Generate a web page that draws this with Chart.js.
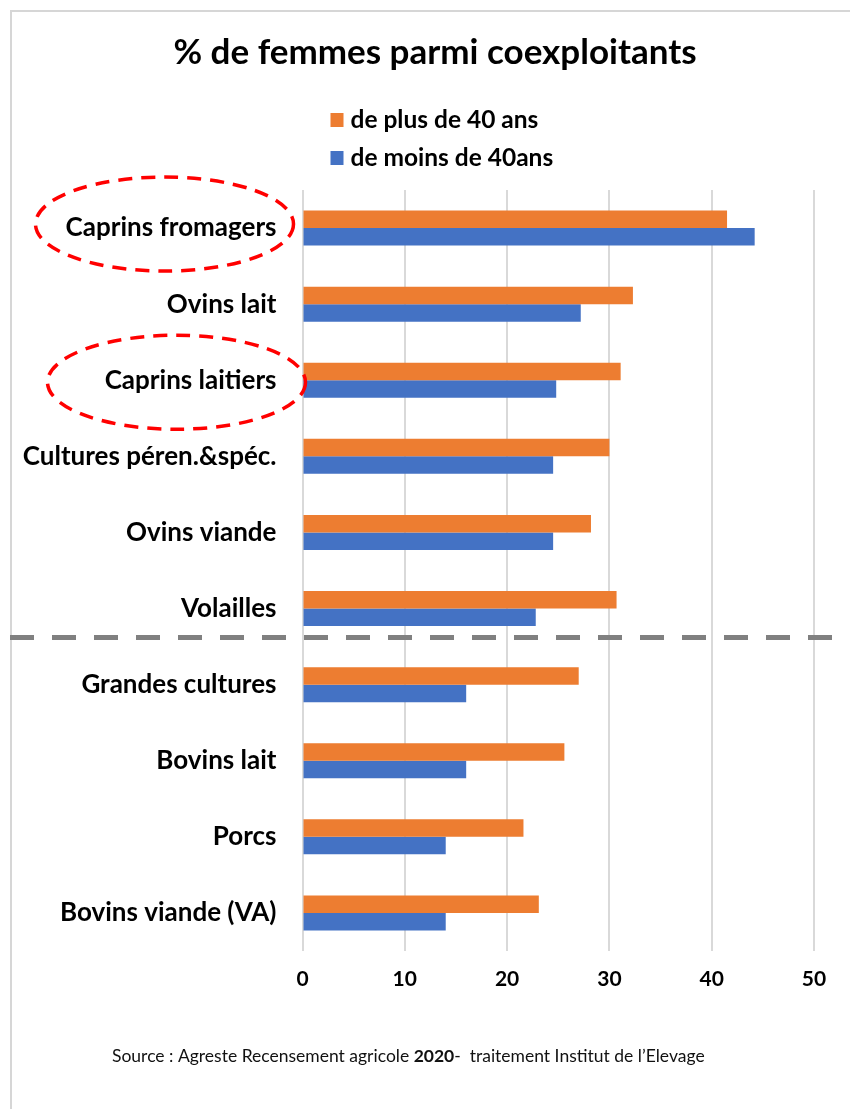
<!DOCTYPE html>
<html>
<head>
<meta charset="utf-8">
<script src="https://cdn.jsdelivr.net/npm/chart.js@4.4.1/dist/chart.umd.min.js"></script>
<style>
  body { margin: 0; background: #fff; }
  #wrap { position: relative; width: 850px; height: 1109px; }
</style>
</head>
<body>
<div id="wrap"><canvas id="chart"></canvas></div>
<script>
"use strict";
const categories = [
    'Caprins fromagers', 'Ovins lait', 'Caprins laitiers', 'Cultures péren.&spéc.',
    'Ovins viande', 'Volailles', 'Grandes cultures', 'Bovins lait', 'Porcs', 'Bovins viande (VA)'
];
const plus40 = [41.5, 32.3, 31.1, 30.0, 28.2, 30.7, 27.0, 25.6, 21.6, 23.1];
const moins40 = [44.2, 27.2, 24.8, 24.5, 24.5, 22.8, 16.0, 16.0, 14.0, 14.0];
const xTicks = [0, 10, 20, 30, 40, 50];
const seriesNames = ['de plus de 40 ans', 'de moins de 40ans'];
const circled = ['Caprins fromagers', 'Caprins laitiers'];
const splitAfter = 'Volailles';
const chartTitle = '% de femmes parmi coexploitants';

const FONT = 'Lato, "Open Sans", sans-serif';
const ORANGE = '#ED7D31';
const BLUE = '#4472C4';

// light frame around the figure + title
const framePlugin = {
    id: 'frame',
    beforeDraw(chart) {
        const ctx = chart.ctx;
        ctx.save();
        ctx.fillStyle = '#fff';
        ctx.fillRect(0, 0, chart.width, chart.height);
        ctx.strokeStyle = '#d6d6d6';
        ctx.lineWidth = 2;
        ctx.beginPath();
        ctx.moveTo(11, chart.height);
        ctx.lineTo(11, 11);
        ctx.lineTo(chart.width, 11);
        ctx.stroke();
        ctx.fillStyle = '#000';
        ctx.font = 'bold 35px ' + FONT;
        ctx.textAlign = 'center';
        ctx.textBaseline = 'middle';
        ctx.fillText(chartTitle, 435, 53);
        ctx.restore();
    }
};

// vertical legend under the title
const legendPlugin = {
    id: 'vlegend',
    afterDraw(chart) {
        const ctx = chart.ctx;
        const x = chart.chartArea.left + 28;
        ctx.save();
        ctx.font = 'bold 24.5px ' + FONT;
        ctx.textBaseline = 'middle';
        chart.data.datasets.forEach((ds, i) => {
            const y = 120 + i * 38;
            ctx.fillStyle = ds.backgroundColor;
            ctx.fillRect(x, y - 7, 13, 14);
            ctx.fillStyle = '#000';
            ctx.fillText(ds.label, x + 20, y);
        });
        ctx.restore();
    }
};

// dashed separator + red ellipses
const notesPlugin = {
    id: 'notes',
    afterDraw(chart) {
        const ctx = chart.ctx;
        const yScale = chart.scales.y;
        const band = yScale.getPixelForValue(1) - yScale.getPixelForValue(0);
        ctx.save();
        const idx = categories.indexOf(splitAfter);
        const ySep = yScale.getPixelForValue(idx) + band * 0.38;
        ctx.strokeStyle = '#808080';
        ctx.lineWidth = 5;
        ctx.setLineDash([24, 18]);
        ctx.beginPath();
        ctx.moveTo(10, ySep);
        ctx.lineTo(832, ySep);
        ctx.stroke();

        ctx.strokeStyle = '#ff0000';
        ctx.lineWidth = 3.5;
        ctx.setLineDash([14, 9]);
        const shifts = [[-138, -4], [-126, 2]];
        circled.forEach((name, i) => {
            const cy = yScale.getPixelForValue(categories.indexOf(name)) + shifts[i][1];
            const cx = yScale.right + shifts[i][0];
            ctx.beginPath();
            ctx.ellipse(cx, cy, 129, 47, 0, 0, Math.PI * 2);
            ctx.stroke();
        });
        ctx.restore();
    }
};

// source line
const sourcePlugin = {
    id: 'source',
    afterDraw(chart) {
        const ctx = chart.ctx;
        const parts = [
            ['Source : Agreste Recensement agricole ', ''],
            ['2020', 'bold '],
            ['-  traitement Institut de l\u2019Elevage', '']
        ];
        ctx.save();
        ctx.fillStyle = '#111';
        ctx.textBaseline = 'middle';
        let x = 112;
        parts.forEach(p => {
            ctx.font = p[1] + '17.5px ' + FONT;
            ctx.fillText(p[0], x, 1056);
            x += ctx.measureText(p[0]).width;
        });
        ctx.restore();
    }
};

new Chart(document.getElementById('chart'), {
    type: 'bar',
    data: {
        labels: categories,
        datasets: [
            { label: seriesNames[0], data: plus40, backgroundColor: ORANGE },
            { label: seriesNames[1], data: moins40, backgroundColor: BLUE }
        ]
    },
    options: {
        indexAxis: 'y',
        responsive: true,
        maintainAspectRatio: false,
        animation: false,
        categoryPercentage: 0.46,
        barPercentage: 1.0,
        layout: { padding: { left: 0, right: 36, top: 190, bottom: 0 } },
        plugins: {
            legend: { display: false },
            tooltip: { enabled: false },
            title: { display: false }
        },
        scales: {
            x: {
                min: 0,
                max: 50,
                afterBuildTicks: s => { s.ticks = xTicks.map(v => ({ value: v })); },
                afterFit: s => { s.height = 158; },
                grid: { color: '#d9d9d9', lineWidth: 2, drawTicks: false },
                border: { display: false },
                ticks: { color: '#000', padding: 16, font: { family: FONT, size: 21, weight: 'bold' } }
            },
            y: {
                afterFit: s => { s.width = 302.5; },
                grid: { display: false, drawTicks: false },
                border: { display: false },
                ticks: { color: '#000', padding: 26, font: { family: FONT, size: 26, weight: 'bold' } }
            }
        }
    },
    plugins: [framePlugin, legendPlugin, notesPlugin, sourcePlugin]
});
</script>
</body>
</html>
